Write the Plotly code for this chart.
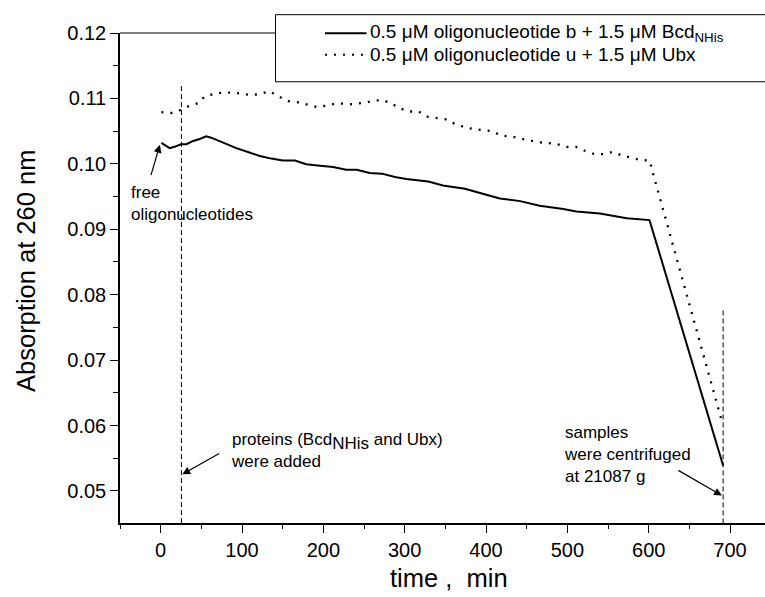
import plotly.graph_objects as go

# ---- data ----
t_bcd = [0.9, 11, 17, 25, 31.6, 40, 48, 56, 62, 77, 93, 110, 122, 136, 150, 165, 179, 196, 212,
         228, 241, 257, 272, 288, 302, 329, 347, 374, 396, 417, 442, 466, 495, 511, 540, 565,
         573, 601, 691.5]
a_bcd = [0.1032, 0.1024, 0.1026, 0.1030, 0.1030, 0.1035, 0.1038, 0.1042, 0.1040, 0.1032, 0.1024,
         0.1017, 0.1012, 0.1008, 0.1005, 0.1005, 0.09995, 0.0997, 0.0995, 0.0991, 0.0991, 0.0986,
         0.0985, 0.0980, 0.0977, 0.0973, 0.0967, 0.0962, 0.0954, 0.0947, 0.0943, 0.0936, 0.0931,
         0.0927, 0.0924, 0.0918, 0.0917, 0.0914, 0.0539]

t_ubx = [0.9, 13, 25, 36, 47, 54, 66, 77.5, 89, 100.5, 111.5, 123, 134, 145, 156.6, 169, 179,
         191.5, 204, 215, 225.5, 236.5, 248, 260, 271.5, 282.5, 294, 305, 317, 328, 339, 350.5,
         362, 373.5, 385, 396.5, 407.5, 419, 430.5, 441.5, 453, 464.5, 476, 487.5, 499, 510.5,
         521.5, 533, 544, 555.5, 567, 578.5, 589.5, 601, 689.6]
a_ubx = [0.1079, 0.10776, 0.10826, 0.1089, 0.1093, 0.1103, 0.1107, 0.1109, 0.1109, 0.1107, 0.1105,
         0.1107, 0.1111, 0.1103, 0.1096, 0.1094, 0.1091, 0.1087, 0.1089, 0.1092, 0.1092, 0.1091,
         0.1093, 0.1096, 0.1098, 0.1093, 0.1085, 0.1080, 0.1080, 0.1072, 0.1070, 0.1068, 0.1061,
         0.1056, 0.1053, 0.1051, 0.1050, 0.1043, 0.1042, 0.1039, 0.1036, 0.1033, 0.1032, 0.1030,
         0.1026, 0.1026, 0.1020, 0.1015, 0.1015, 0.1018, 0.1013, 0.1009, 0.1006, 0.1005, 0.0608]

marker_t = [25.5, 691.5]          # vertical event markers (min)
marker_top = [0.1119, 0.0776]     # top of each dashed marker

labels = ["0.5 μM oligonucleotide b + 1.5 μM Bcd<sub>NHis</sub>",
          "0.5 μM oligonucleotide u + 1.5 μM Ubx"]

X_RANGE = [-50, 743]
Y_RANGE = [0.0451, 0.12]

W, H = 765, 597
ML, MR, MT, MB = 120, 0, 33.3, 74.3
PW, PH = W - ML - MR, H - MT - MB


def px(xp):
    return (xp - ML) / PW


def py(yp):
    return (H - MB - yp) / PH


FONT = "Liberation Sans, Arial, sans-serif"

fig = go.Figure()
fig.add_trace(go.Scatter(x=t_bcd, y=a_bcd, mode="lines", line=dict(color="black", width=2),
                         showlegend=False))
fig.add_trace(go.Scatter(x=t_ubx, y=a_ubx, mode="lines",
                         line=dict(color="black", width=2.3, dash="2px,7px"), showlegend=False))
for t, top in zip(marker_t, marker_top):
    fig.add_trace(go.Scatter(x=[t, t], y=[top, Y_RANGE[0]], mode="lines",
                             line=dict(color="black", width=1, dash="5px,3px"), showlegend=False))

shapes = []
# top frame line
shapes.append(dict(type="line", xref="paper", yref="paper", x0=0, x1=px(276), y0=1, y1=1,
                   line=dict(color="black", width=1)))
# legend box
shapes.append(dict(type="rect", xref="paper", yref="paper", x0=px(275.5), x1=px(800),
                   y0=py(15), y1=py(82), fillcolor="white", line=dict(color="black", width=1),
                   layer="above"))
shapes.append(dict(type="line", xref="paper", yref="paper", x0=px(325), x1=px(366.5),
                   y0=py(33.5), y1=py(33.5), line=dict(color="black", width=2), layer="above"))
shapes.append(dict(type="line", xref="paper", yref="paper", x0=px(325), x1=px(366.5),
                   y0=py(55), y1=py(55), line=dict(color="black", width=2, dash="2px,7px"),
                   layer="above"))

ann = []
for lab, yy in zip(labels, [33.5, 55]):
    ann.append(dict(text=lab, xref="paper", yref="paper", x=px(368), y=py(yy), xanchor="left",
                    yanchor="middle", showarrow=False, font=dict(size=19, color="black", family=FONT)))

ann.append(dict(text="free<br>oligonucleotides", xref="paper", yref="paper", x=px(129),
                y=py(204), xanchor="left", yanchor="middle", align="left", showarrow=False,
                font=dict(size=17, color="black", family=FONT)))
ann.append(dict(text="proteins (Bcd<sub><span style='font-size:17px'>NHis</span></sub> and Ubx)<br>were added",
                xref="paper", yref="paper", x=px(229), y=py(450), xanchor="left", yanchor="middle",
                align="left", showarrow=False, font=dict(size=17, color="black", family=FONT)))
ann.append(dict(text="samples<br>were centrifuged<br>at 21087 g", xref="paper", yref="paper",
                x=px(562), y=py(454.7), xanchor="left", yanchor="middle", align="left",
                showarrow=False, font=dict(size=17, color="black", family=FONT)))

# arrows (heads in data coords, tails as pixel offsets)
for (hx, hy, ax, ay) in [(-1, 0.1029, -9.3, 31.7), (26.7, 0.05254, 38.3, -21.7),
                         (690, 0.0493, -45, -26)]:
    ann.append(dict(text="", x=hx, y=hy, xref="x", yref="y", ax=ax, ay=ay, showarrow=True,
                    arrowhead=2, arrowsize=1.3, arrowwidth=1.2, arrowcolor="black"))

# axis titles
ann.append(dict(text="Absorption at 260 nm", xref="paper", yref="paper", x=px(26), y=py(271),
                textangle=-90, showarrow=False, xanchor="center", yanchor="middle",
                font=dict(size=25.5, color="black", family=FONT)))
ann.append(dict(text="time ,\u00a0\u00a0min", xref="paper", yref="paper", x=px(449), y=py(578),
                showarrow=False, xanchor="center", yanchor="middle",
                font=dict(size=25.5, color="black", family=FONT)))

fig.update_layout(
    width=W, height=H, margin=dict(l=ML, r=MR, t=MT, b=MB, pad=0),
    plot_bgcolor="white", paper_bgcolor="white",
    font=dict(family=FONT, color="black"),
    shapes=shapes, annotations=ann, showlegend=False,
    xaxis=dict(range=X_RANGE, showgrid=False, zeroline=False, showline=True, linecolor="black",
               linewidth=2, ticks="outside", ticklen=8, tickwidth=1.2, tickcolor="black",
               dtick=100, tick0=0, tickfont=dict(size=20, color="black", family=FONT),
               minor=dict(ticks="outside", ticklen=4, dtick=50, tick0=0, tickcolor="black",
                          tickwidth=1.2)),
    yaxis=dict(range=Y_RANGE, showgrid=False, zeroline=False, showline=True, linecolor="black",
               linewidth=1.5, ticks="outside", ticklen=8, tickwidth=1.2, tickcolor="black",
               dtick=0.01, tick0=0, tickformat=".2f",
               tickfont=dict(size=20, color="black", family=FONT),
               minor=dict(ticks="outside", ticklen=5, dtick=0.005, tick0=0, tickcolor="black",
                          tickwidth=1.2)),
)

fig.write_html("out.html")
